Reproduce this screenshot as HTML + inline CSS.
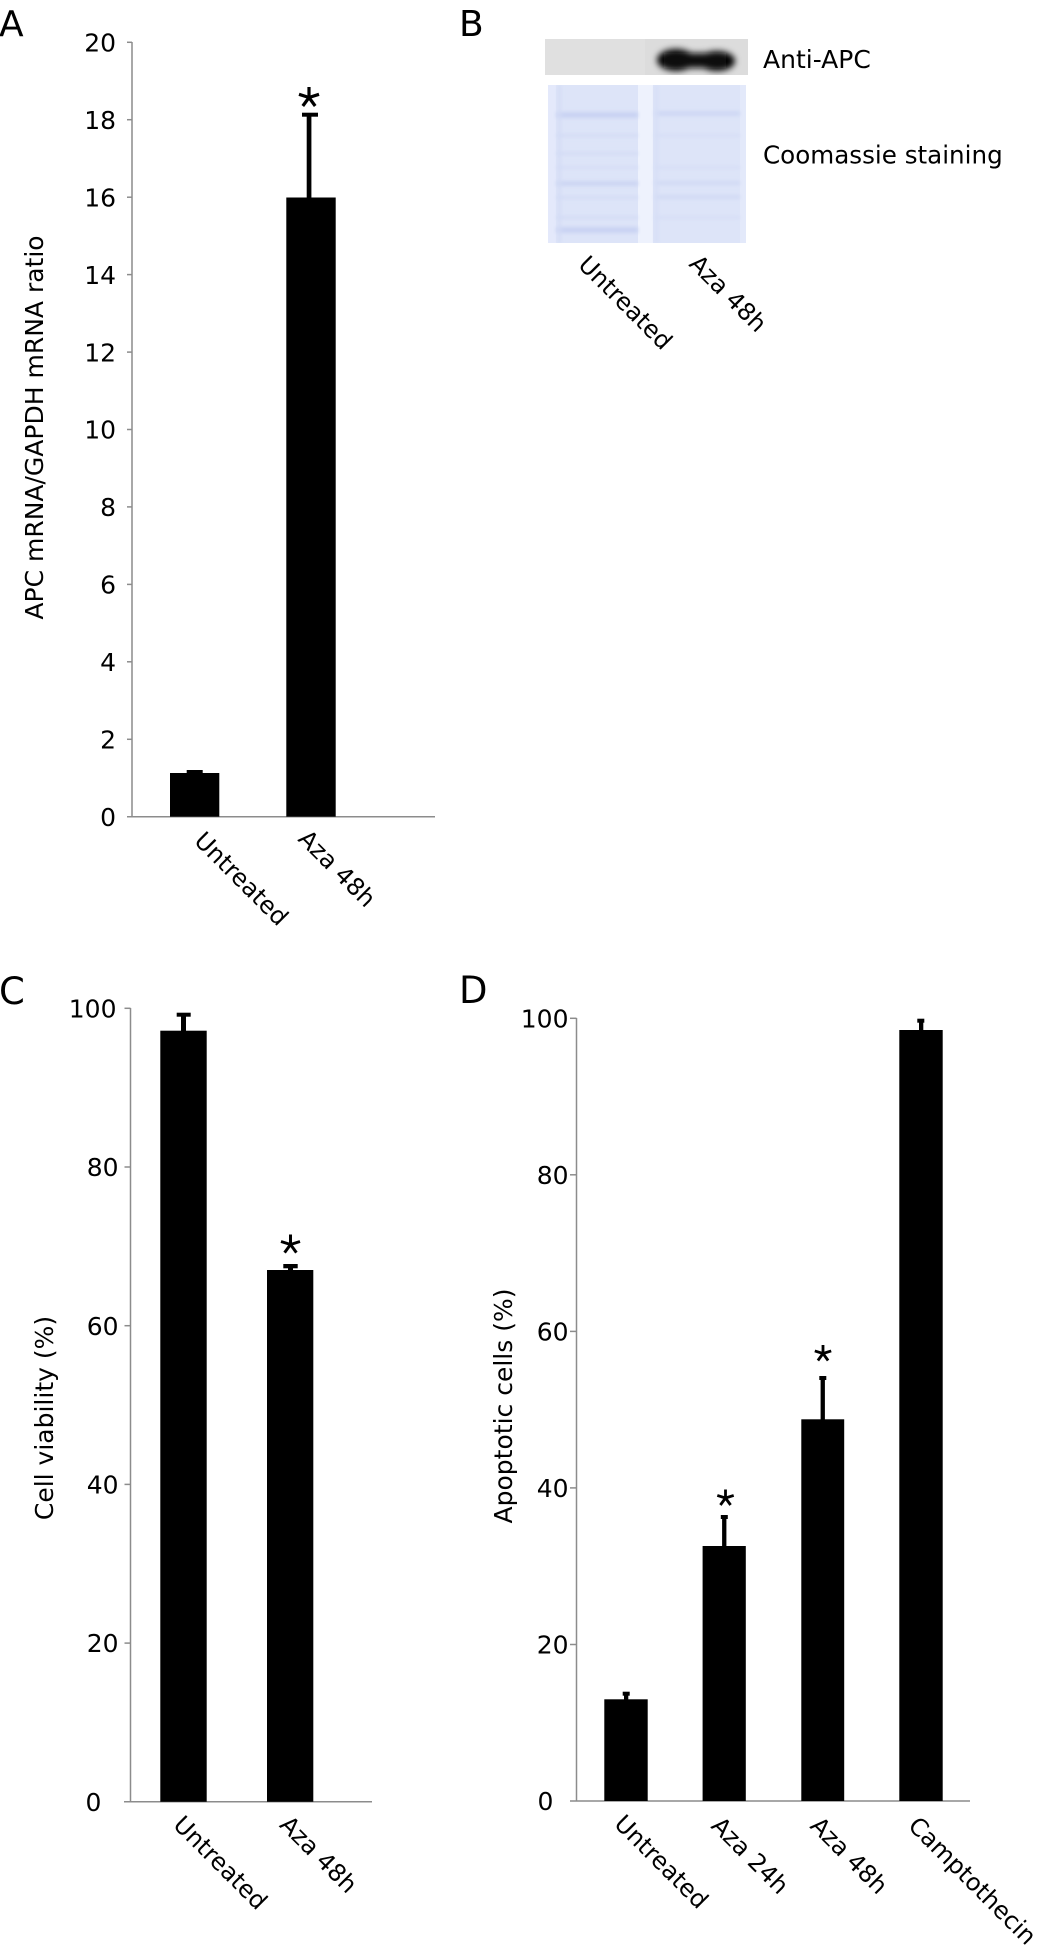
<!DOCTYPE html>
<html>
<head>
<meta charset="utf-8">
<style>
  html, body { margin: 0; padding: 0; background: #ffffff; }
  body { width: 1050px; height: 1956px; overflow: hidden; }
  svg { display: block; }
  text { font-family: "DejaVu Sans", "Liberation Sans", sans-serif; fill: #000; }
</style>
</head>
<body>
<svg width="1050" height="1956" viewBox="0 0 1050 1956" xmlns="http://www.w3.org/2000/svg">
  <defs>
    <filter id="blur3" x="-50%" y="-50%" width="200%" height="200%">
      <feGaussianBlur stdDeviation="3.2"/>
    </filter>
    <filter id="blur1" x="-20%" y="-300%" width="140%" height="700%">
      <feGaussianBlur stdDeviation="1.8"/>
    </filter>
    <clipPath id="wbclip"><rect x="545" y="39" width="203" height="36"/></clipPath>
    <clipPath id="cbclip"><rect x="548" y="85" width="198" height="158"/></clipPath>
  </defs>

  <rect x="0" y="0" width="1050" height="1956" fill="#ffffff"/>

  <!-- Panel letters -->
  <text x="-1" y="36" font-size="36">A</text>
  <text x="459" y="36" font-size="36">B</text>
  <text x="-1" y="1004" font-size="37">C</text>
  <text x="459" y="1003" font-size="37">D</text>

  <!-- ================= PANEL A ================= -->
  <g stroke="#8c8c8c" stroke-width="1.5" fill="none">
    <line x1="132" y1="42" x2="132" y2="817"/>
    <line x1="127" y1="816.7" x2="435" y2="816.7"/>
    <line x1="127" y1="42.3" x2="132" y2="42.3"/>
    <line x1="127" y1="119.7" x2="132" y2="119.7"/>
    <line x1="127" y1="197.2" x2="132" y2="197.2"/>
    <line x1="127" y1="274.6" x2="132" y2="274.6"/>
    <line x1="127" y1="352.1" x2="132" y2="352.1"/>
    <line x1="127" y1="429.5" x2="132" y2="429.5"/>
    <line x1="127" y1="506.9" x2="132" y2="506.9"/>
    <line x1="127" y1="584.4" x2="132" y2="584.4"/>
    <line x1="127" y1="661.8" x2="132" y2="661.8"/>
    <line x1="127" y1="739.3" x2="132" y2="739.3"/>
  </g>
  <g font-size="25" text-anchor="end">
    <text x="116" y="51.5">20</text>
    <text x="116" y="128.9">18</text>
    <text x="116" y="206.4">16</text>
    <text x="116" y="283.8">14</text>
    <text x="116" y="361.3">12</text>
    <text x="116" y="438.7">10</text>
    <text x="116" y="516.1">8</text>
    <text x="116" y="593.6">6</text>
    <text x="116" y="671">4</text>
    <text x="116" y="748.5">2</text>
    <text x="116" y="825.9">0</text>
  </g>
  <text font-size="25" text-anchor="middle" transform="translate(43,427.5) rotate(-90)">APC mRNA/GAPDH mRNA ratio</text>

  <!-- bars A -->
  <rect x="170" y="773" width="49.3" height="43.7" fill="#000"/>
  <rect x="186.7" y="770" width="16" height="4" fill="#000"/>
  <rect x="286.3" y="197.5" width="49.4" height="619.2" fill="#000"/>
  <rect x="306.7" y="114" width="4.7" height="84" fill="#000"/>
  <rect x="302" y="112.7" width="16" height="4" fill="#000"/>
  <!-- asterisk A -->
  <g stroke="#000" stroke-width="3.2" stroke-linecap="butt" transform="translate(309,97.5)">
    <line x1="0" y1="0" x2="0" y2="-10.5"/>
    <line x1="0" y1="0" x2="10" y2="-3.2"/>
    <line x1="0" y1="0" x2="-10" y2="-3.2"/>
    <line x1="0" y1="0" x2="6.2" y2="8.5"/>
    <line x1="0" y1="0" x2="-6.2" y2="8.5"/>
  </g>
  <g font-size="24">
    <text transform="translate(193,842) rotate(45)">Untreated</text>
    <text transform="translate(297,840) rotate(45)">Aza 48h</text>
  </g>

  <!-- ================= PANEL B ================= -->
  <rect x="545" y="39" width="203" height="36" fill="#dcdcdc"/>
  <rect x="545" y="39" width="100" height="36" fill="#e0e0e0"/>
  <g clip-path="url(#wbclip)">
    <g filter="url(#blur3)">
      <ellipse cx="676" cy="60" rx="19" ry="11" fill="#000"/>
      <ellipse cx="717" cy="61" rx="18" ry="10" fill="#000"/>
      <rect x="664" y="53" width="62" height="15" fill="#111"/>
    </g>
  </g>

  <rect x="548" y="85" width="198" height="158" fill="#dde4f8"/>
  <g clip-path="url(#cbclip)">
    <rect x="548" y="85" width="8" height="158" fill="#e4e9fb"/>
    <rect x="638" y="85" width="15" height="158" fill="#eef2fd"/>
    <rect x="740" y="85" width="6" height="158" fill="#e3e9fa"/>
    <g filter="url(#blur1)">
      <rect x="556" y="112" width="82" height="6" fill="#c9d3f3"/>
      <rect x="556" y="134" width="82" height="3" fill="#d3dbf5"/>
      <rect x="556" y="152" width="82" height="3" fill="#d3dbf5"/>
      <rect x="556" y="166" width="82" height="3" fill="#d5ddf6"/>
      <rect x="556" y="181" width="82" height="5" fill="#ccd5f3"/>
      <rect x="556" y="196" width="82" height="3" fill="#d3dbf5"/>
      <rect x="556" y="216" width="82" height="3" fill="#d3dbf5"/>
      <rect x="556" y="227" width="82" height="6" fill="#c9d3f3"/>
      <rect x="654" y="111" width="86" height="5" fill="#cfd8f4"/>
      <rect x="654" y="134" width="86" height="3" fill="#d6def6"/>
      <rect x="654" y="166" width="86" height="3" fill="#d6def6"/>
      <rect x="654" y="181" width="86" height="4" fill="#d1daf4"/>
      <rect x="654" y="195" width="86" height="4" fill="#d1daf4"/>
      <rect x="654" y="216" width="86" height="3" fill="#d6def6"/>
      <rect x="558" y="85" width="3" height="158" fill="#d3dbf5"/>
      <rect x="655" y="85" width="3" height="158" fill="#d6def6"/>
    </g>
  </g>
  <text x="763" y="68" font-size="25">Anti-APC</text>
  <text x="763" y="163.5" font-size="24.6">Coomassie staining</text>
  <g font-size="24">
    <text transform="translate(577,266) rotate(45)">Untreated</text>
    <text transform="translate(688,265) rotate(45)">Aza 48h</text>
  </g>

  <!-- ================= PANEL C ================= -->
  <g stroke="#8c8c8c" stroke-width="1.5" fill="none">
    <line x1="130.5" y1="1008" x2="130.5" y2="1802"/>
    <line x1="124" y1="1801.8" x2="372" y2="1801.8"/>
    <line x1="124.5" y1="1008.3" x2="130.5" y2="1008.3"/>
    <line x1="124.5" y1="1167" x2="130.5" y2="1167"/>
    <line x1="124.5" y1="1325.7" x2="130.5" y2="1325.7"/>
    <line x1="124.5" y1="1484.4" x2="130.5" y2="1484.4"/>
    <line x1="124.5" y1="1643.1" x2="130.5" y2="1643.1"/>
  </g>
  <g font-size="25" text-anchor="end">
    <text x="116.5" y="1017.4">100</text>
    <text x="118.5" y="1176.1">80</text>
    <text x="118.5" y="1334.8">60</text>
    <text x="118.5" y="1493.5">40</text>
    <text x="118.5" y="1652.2">20</text>
  </g>
  <text x="85.5" y="1810.9" font-size="25">0</text>
  <text font-size="25" text-anchor="middle" transform="translate(53,1418) rotate(-90)">Cell viability (%)</text>

  <rect x="160.3" y="1030.7" width="46.4" height="771.1" fill="#000"/>
  <rect x="181" y="1014" width="5" height="17" fill="#000"/>
  <rect x="176.7" y="1012.7" width="14" height="4" fill="#000"/>
  <rect x="267" y="1270" width="46.3" height="531.8" fill="#000"/>
  <rect x="288" y="1266" width="5" height="5" fill="#000"/>
  <rect x="283.3" y="1264" width="14.4" height="4.3" fill="#000"/>
  <g stroke="#000" stroke-width="3" transform="translate(290.5,1244.5)">
    <line x1="0" y1="0" x2="0" y2="-10"/>
    <line x1="0" y1="0" x2="9.5" y2="-3"/>
    <line x1="0" y1="0" x2="-9.5" y2="-3"/>
    <line x1="0" y1="0" x2="5.9" y2="8.1"/>
    <line x1="0" y1="0" x2="-5.9" y2="8.1"/>
  </g>
  <g font-size="24">
    <text transform="translate(172,1826) rotate(45)">Untreated</text>
    <text transform="translate(278.5,1826) rotate(45)">Aza 48h</text>
  </g>

  <!-- ================= PANEL D ================= -->
  <g stroke="#8c8c8c" stroke-width="1.5" fill="none">
    <line x1="576.5" y1="1018" x2="576.5" y2="1801.5"/>
    <line x1="570" y1="1801" x2="970" y2="1801"/>
    <line x1="570" y1="1018.3" x2="576.5" y2="1018.3"/>
    <line x1="570" y1="1174.8" x2="576.5" y2="1174.8"/>
    <line x1="570" y1="1331.4" x2="576.5" y2="1331.4"/>
    <line x1="570" y1="1487.9" x2="576.5" y2="1487.9"/>
    <line x1="570" y1="1644.5" x2="576.5" y2="1644.5"/>
  </g>
  <g font-size="25" text-anchor="end">
    <text x="568.5" y="1027.4">100</text>
    <text x="568.5" y="1183.9">80</text>
    <text x="568.5" y="1340.5">60</text>
    <text x="568.5" y="1497">40</text>
    <text x="568.5" y="1653.6">20</text>
  </g>
  <text x="537.5" y="1810.1" font-size="25">0</text>
  <text font-size="25" text-anchor="middle" transform="translate(512,1406) rotate(-90)">Apoptotic cells (%)</text>

  <!-- Untreated -->
  <rect x="604.3" y="1699.3" width="43.4" height="101.7" fill="#000"/>
  <rect x="624" y="1693" width="4.3" height="7" fill="#000"/>
  <rect x="622.7" y="1691.7" width="7" height="4" fill="#000"/>
  <!-- Aza 24h -->
  <rect x="702.6" y="1546" width="43.2" height="255" fill="#000"/>
  <rect x="722.1" y="1516" width="4.3" height="31" fill="#000"/>
  <rect x="720.8" y="1515" width="7" height="4" fill="#000"/>
  <!-- Aza 48h -->
  <rect x="801.3" y="1419.3" width="42.9" height="381.7" fill="#000"/>
  <rect x="820.6" y="1377" width="4.3" height="43" fill="#000"/>
  <rect x="819.3" y="1376" width="7" height="4" fill="#000"/>
  <!-- Camptothecin -->
  <rect x="899.3" y="1030" width="43.4" height="771" fill="#000"/>
  <rect x="919" y="1019.5" width="4.3" height="11" fill="#000"/>
  <rect x="917.3" y="1018.7" width="7" height="4" fill="#000"/>

  <g stroke="#000" stroke-width="2.8" transform="translate(725.5,1498)">
    <line x1="0" y1="0" x2="0" y2="-8.5"/>
    <line x1="0" y1="0" x2="8.2" y2="-2.6"/>
    <line x1="0" y1="0" x2="-8.2" y2="-2.6"/>
    <line x1="0" y1="0" x2="5.1" y2="7"/>
    <line x1="0" y1="0" x2="-5.1" y2="7"/>
  </g>
  <g stroke="#000" stroke-width="2.8" transform="translate(823,1353.5)">
    <line x1="0" y1="0" x2="0" y2="-8.5"/>
    <line x1="0" y1="0" x2="8.2" y2="-2.6"/>
    <line x1="0" y1="0" x2="-8.2" y2="-2.6"/>
    <line x1="0" y1="0" x2="5.1" y2="7"/>
    <line x1="0" y1="0" x2="-5.1" y2="7"/>
  </g>

  <g font-size="24">
    <text transform="translate(613,1825) rotate(45)">Untreated</text>
    <text transform="translate(710,1827) rotate(45)">Aza 24h</text>
    <text transform="translate(809,1827) rotate(45)">Aza 48h</text>
    <text transform="translate(907,1827) rotate(45)">Camptothecin</text>
  </g>
</svg>
</body>
</html>
